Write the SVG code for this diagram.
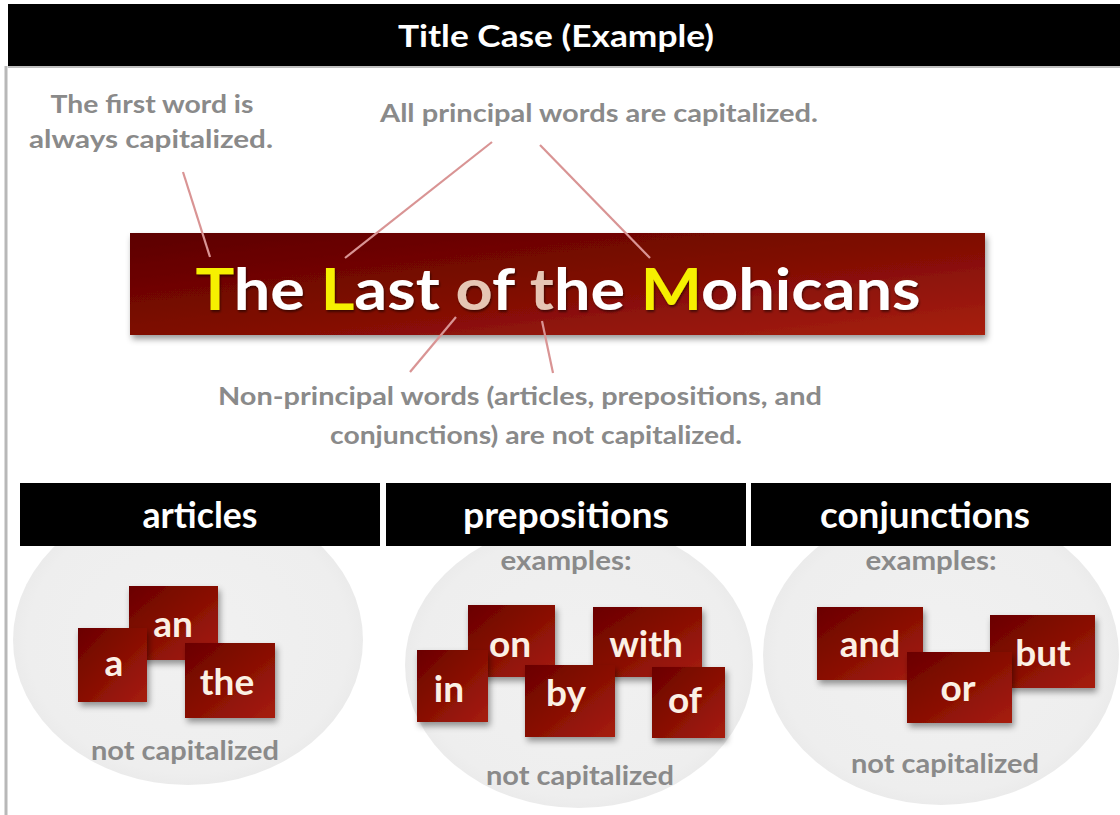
<svg xmlns="http://www.w3.org/2000/svg" width="1120" height="815" viewBox="0 0 1120 815">
<defs>
<linearGradient id="banner" x1="0" y1="0" x2="1" y2="1">
<stop offset="0" stop-color="#5c0000"/>
<stop offset="0.5" stop-color="#7e0a04"/>
<stop offset="1" stop-color="#a8200f"/>
</linearGradient>
<linearGradient id="box" x1="0" y1="0" x2="1" y2="1">
<stop offset="0" stop-color="#6a0000"/>
<stop offset="0.6" stop-color="#8e1206"/>
<stop offset="1" stop-color="#a71d0e"/>
</linearGradient>
<radialGradient id="disc" cx="0.5" cy="0.5" r="0.5">
<stop offset="0" stop-color="#f1f1f1"/>
<stop offset="0.92" stop-color="#eeeeee"/>
<stop offset="1" stop-color="#ebebeb"/>
</radialGradient>
<filter id="shadow" x="-10%" y="-10%" width="125%" height="135%">
<feDropShadow dx="2" dy="4" stdDeviation="3" flood-color="#000" flood-opacity="0.4"/>
</filter>
<filter id="tshadow" x="-5%" y="-10%" width="110%" height="130%">
<feDropShadow dx="1" dy="2" stdDeviation="1.2" flood-color="#000" flood-opacity="0.5"/>
</filter>
<style>
.note{font-family:Lato,"Liberation Sans",sans-serif;font-weight:bold;font-size:25px;fill:#8a8a8a;text-anchor:middle}
.nc{font-family:Lato,"Liberation Sans",sans-serif;font-weight:bold;font-size:27px;fill:#8a8a8a;text-anchor:middle}
.ex{font-family:Lato,"Liberation Sans",sans-serif;font-weight:bold;font-size:26px;fill:#8a8a8a;text-anchor:middle}
.hdr{fill:#000}
.htxt{font-family:Lato,"Liberation Sans",sans-serif;font-weight:bold;font-size:36px;fill:#fff;text-anchor:middle}
.circ{fill:url(#disc)}
.wbox{fill:url(#box);filter:url(#shadow)}
.wtxt{font-family:Lato,"Liberation Sans",sans-serif;font-weight:bold;font-size:37px;fill:#fbf0e4;text-anchor:middle}
.conn{stroke:#d99494;stroke-width:2.2;fill:none}
</style>
</defs>
<rect x="0" y="0" width="1120" height="815" fill="#fff"/>
<line x1="6" y1="66" x2="6" y2="815" stroke="#b8b8b8" stroke-width="3"/>
<g id="title">
<rect x="8" y="4" width="1112" height="62" fill="#000"/>
<line x1="8" y1="67" x2="1120" y2="67" stroke="#c0c0c0" stroke-width="2"/>
<text x="556" y="47" font-family="Lato,'Liberation Sans',sans-serif" font-weight="bold" font-size="30" fill="#fff" text-anchor="middle" textLength="316" lengthAdjust="spacingAndGlyphs">Title Case (Example)</text>
</g>
<g id="note-first">
<text class="note" x="152" y="113" textLength="203" lengthAdjust="spacingAndGlyphs">The first word is</text>
<text class="note" x="151" y="148" textLength="244" lengthAdjust="spacingAndGlyphs">always capitalized.</text>
</g>
<g id="note-principal">
<text class="note" x="599" y="122" textLength="438" lengthAdjust="spacingAndGlyphs">All principal words are capitalized.</text>
</g>
<g id="banner-node">
<rect x="130" y="233" width="855" height="102" fill="url(#banner)" filter="url(#shadow)"/>
<text x="558" y="310" font-family="Lato,'Liberation Sans',sans-serif" font-weight="bold" font-size="58" fill="#fff" text-anchor="middle" textLength="725" lengthAdjust="spacingAndGlyphs" filter="url(#tshadow)"><tspan fill="#f6f000">T</tspan>he <tspan fill="#f6f000">L</tspan>ast <tspan fill="#e6c6b4">o</tspan>f <tspan fill="#e6c6b4">t</tspan>he <tspan fill="#f6f000">M</tspan>ohicans</text>
</g>
<g id="note-nonprincipal">
<text class="note" x="520" y="405" textLength="604" lengthAdjust="spacingAndGlyphs">Non-principal words (articles, prepositions, and</text>
<text class="note" x="536" y="444" textLength="412" lengthAdjust="spacingAndGlyphs">conjunctions) are not capitalized.</text>
</g>
<g id="connectors">
<line class="conn" x1="183" y1="172" x2="210" y2="257"/>
<line class="conn" x1="492" y1="142" x2="345" y2="258"/>
<line class="conn" x1="540" y1="145" x2="650" y2="258"/>
<line class="conn" x1="456" y1="317" x2="410" y2="372"/>
<line class="conn" x1="542" y1="321" x2="553" y2="373"/>
</g>
<g id="articles">
<ellipse class="circ" cx="188" cy="640" rx="175" ry="145"/>
<rect class="hdr" x="20" y="483" width="360" height="63"/>
<text class="htxt" x="200" y="528" textLength="115" lengthAdjust="spacingAndGlyphs">articles</text>
<rect class="wbox" x="129" y="586" width="89" height="74"/>
<text class="wtxt" x="173" y="637">an</text>
<rect class="wbox" x="78" y="628" width="69" height="74"/>
<text class="wtxt" x="114" y="676">a</text>
<rect class="wbox" x="185" y="643" width="90" height="75"/>
<text class="wtxt" x="227" y="695">the</text>
<text class="nc" x="185" y="760" textLength="188" lengthAdjust="spacingAndGlyphs">not capitalized</text>
</g>
<g id="prepositions">
<ellipse class="circ" cx="579" cy="665" rx="174" ry="143"/>
<rect class="hdr" x="386" y="483" width="360" height="63"/>
<text class="htxt" x="566" y="528" textLength="206" lengthAdjust="spacingAndGlyphs">prepositions</text>
<text class="ex" x="566" y="570" textLength="131" lengthAdjust="spacingAndGlyphs">examples:</text>
<rect class="wbox" x="468" y="605" width="87" height="72"/>
<text class="wtxt" x="510" y="657">on</text>
<rect class="wbox" x="417" y="650" width="71" height="72"/>
<text class="wtxt" x="449" y="702">in</text>
<rect class="wbox" x="593" y="607" width="109" height="70"/>
<text class="wtxt" x="646" y="657">with</text>
<rect class="wbox" x="525" y="665" width="90" height="72"/>
<text class="wtxt" x="566" y="706">by</text>
<rect class="wbox" x="652" y="667" width="73" height="71"/>
<text class="wtxt" x="685" y="713">of</text>
<text class="nc" x="580" y="785" textLength="188" lengthAdjust="spacingAndGlyphs">not capitalized</text>
</g>
<g id="conjunctions">
<ellipse class="circ" cx="941" cy="655" rx="178" ry="150"/>
<rect class="hdr" x="751" y="483" width="360" height="63"/>
<text class="htxt" x="925" y="528" textLength="210" lengthAdjust="spacingAndGlyphs">conjunctions</text>
<text class="ex" x="931" y="570" textLength="131" lengthAdjust="spacingAndGlyphs">examples:</text>
<rect class="wbox" x="817" y="607" width="106" height="73"/>
<text class="wtxt" x="870" y="657">and</text>
<rect class="wbox" x="990" y="615" width="105" height="73"/>
<text class="wtxt" x="1043" y="666">but</text>
<rect class="wbox" x="907" y="652" width="105" height="71"/>
<text class="wtxt" x="958" y="701">or</text>
<text class="nc" x="945" y="773" textLength="188" lengthAdjust="spacingAndGlyphs">not capitalized</text>
</g>
</svg>
